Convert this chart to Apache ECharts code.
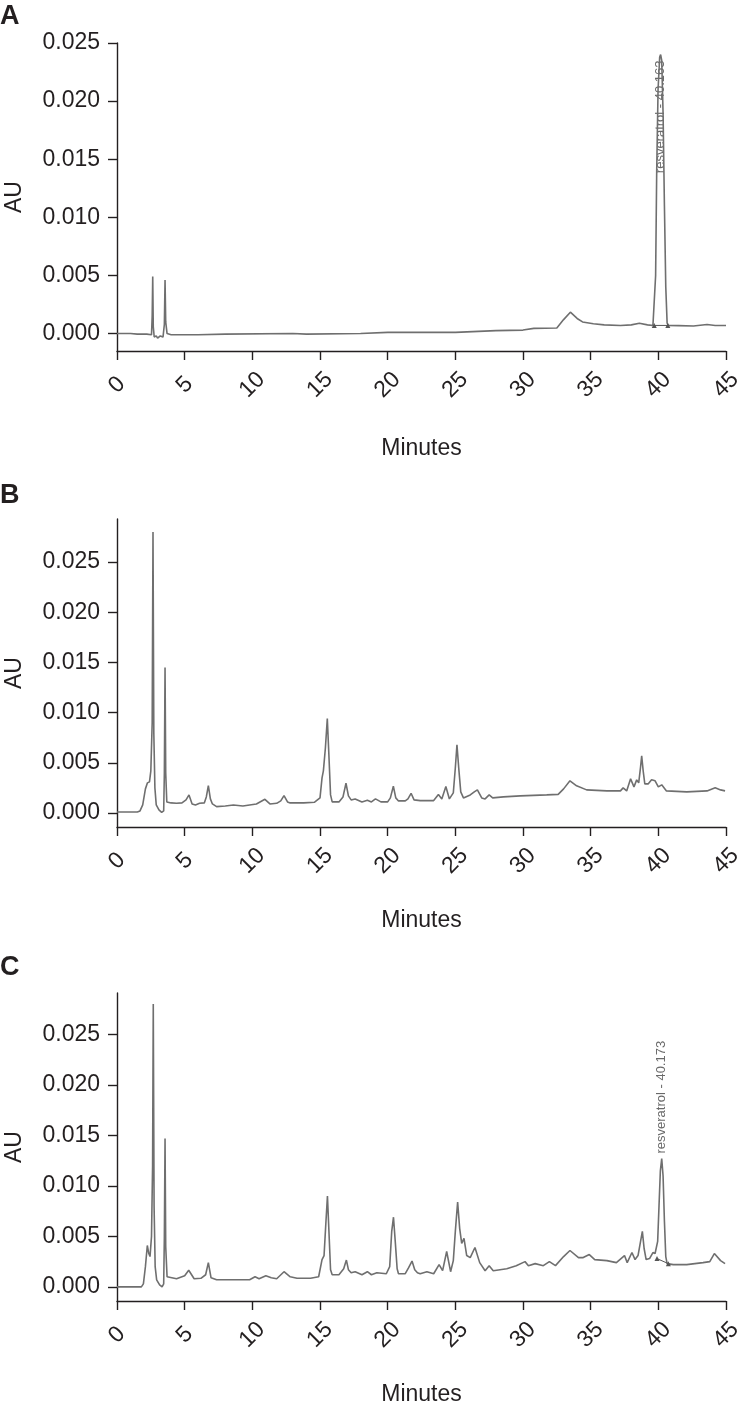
<!DOCTYPE html>
<html>
<head>
<meta charset="utf-8">
<title>HPLC chromatograms</title>
<script src="https://cdn.jsdelivr.net/npm/echarts@6/dist/echarts.min.js"></script>
<style>
  html, body { margin: 0; padding: 0; background: #fff; }
  #chart { width: 738px; height: 1405px; }
</style>
</head>
<body>
<div id="chart"></div>
<script>
// x ticks (minutes) and y ticks (AU), shared by the three panels
const minuteTicks = [0, 5, 10, 15, 20, 25, 30, 35, 40, 45]
const auTicks = [0, 0.005, 0.01, 0.015, 0.02, 0.025]
const panelLetters = ['A', 'B', 'C']

// A: resveratrol standard
const traceA = [
  [0, 0], [1.0, 0], [1.5, -0.00005], [2.2, -0.00005], [2.55, -0.0001], [2.6, 0.0015], [2.64, 0.0049],
  [2.68, 0.0006], [2.75, -0.0003], [2.9, -0.0002], [3.0, -0.0004], [3.2, -0.0002], [3.4, -0.0003],
  [3.5, 0.0008], [3.55, 0.0046], [3.6, 0.001], [3.7, 0], [4.0, -0.0001], [6, -0.0001], [8, -0.00005],
  [13, 0], [14, -0.00005], [18, 0], [20, 0.0001], [25, 0.0001], [28, 0.00025], [30, 0.0003],
  [30.8, 0.00045], [32.5, 0.00048], [33.0, 0.0012], [33.5, 0.00184], [34.0, 0.0013], [34.4, 0.001],
  [35.2, 0.00085], [36, 0.00075], [37.2, 0.0007], [38.0, 0.00075], [38.6, 0.00088], [39.2, 0.00075],
  [39.6, 0.0007], [39.72, 0.0008], [39.8, 0.005], [39.88, 0.014], [39.98, 0.021], [40.1, 0.0238],
  [40.17, 0.024], [40.25, 0.0235], [40.35, 0.019], [40.45, 0.011], [40.55, 0.004], [40.65, 0.0009],
  [40.75, 0.0007], [41.5, 0.00068], [42.6, 0.00065], [43.6, 0.00078], [44.2, 0.0007], [45, 0.0007]
]

// B: sample extract
const traceB = [
  [0, 0.0001], [1.5, 0.0001], [1.7, 0.0002], [1.9, 0.0008], [2.1, 0.0024], [2.25, 0.003], [2.4, 0.0031],
  [2.5, 0.0042], [2.6, 0.009], [2.66, 0.028], [2.72, 0.008], [2.8, 0.0025], [2.9, 0.0008], [3.1, 0.0003],
  [3.3, 0.00005], [3.45, 0.0002], [3.5, 0.004], [3.55, 0.0145], [3.6, 0.004], [3.68, 0.0011], [4.0, 0.001],
  [4.4, 0.00096], [4.8, 0.001], [5.1, 0.0013], [5.32, 0.0018], [5.55, 0.0009], [5.8, 0.0008], [6.1, 0.00096],
  [6.45, 0.001], [6.6, 0.0016], [6.75, 0.00273], [6.9, 0.0014], [7.05, 0.0009], [7.36, 0.00063], [8.0, 0.0007],
  [8.6, 0.0008], [9.3, 0.0007], [10.3, 0.0009], [10.93, 0.00136], [11.3, 0.0009], [11.8, 0.00096],
  [12.1, 0.0012], [12.34, 0.00173], [12.6, 0.0011], [12.8, 0.001], [13.8, 0.001], [14.6, 0.00107],
  [15.0, 0.0015], [15.15, 0.0035], [15.25, 0.0042], [15.4, 0.0065], [15.54, 0.0094], [15.65, 0.006],
  [15.78, 0.0018], [15.9, 0.0011], [16.4, 0.0011], [16.7, 0.0016], [16.92, 0.00296], [17.1, 0.0017],
  [17.3, 0.0013], [17.6, 0.0014], [18.1, 0.0011], [18.5, 0.00126], [18.8, 0.0011], [19.1, 0.0014],
  [19.5, 0.0011], [20.0, 0.0011], [20.2, 0.0015], [20.42, 0.00266], [20.6, 0.0015], [20.8, 0.0012],
  [21.3, 0.0012], [21.5, 0.0014], [21.73, 0.00196], [21.95, 0.0013], [22.4, 0.00123], [23.4, 0.00123],
  [23.75, 0.00183], [24.0, 0.0014], [24.3, 0.00263], [24.56, 0.0014], [24.85, 0.002], [25.0, 0.0045],
  [25.12, 0.0068], [25.25, 0.0045], [25.4, 0.0021], [25.6, 0.0015], [26.1, 0.0018], [26.4, 0.0021],
  [26.63, 0.0023], [26.95, 0.0015], [27.2, 0.0014], [27.5, 0.0018], [27.76, 0.0015], [28.55, 0.0016],
  [29.8, 0.0017], [31.75, 0.0018], [32.6, 0.00185], [33.0, 0.0024], [33.47, 0.0032], [33.96, 0.0027],
  [34.7, 0.0023], [36.2, 0.0022], [37.2, 0.0022], [37.4, 0.0025], [37.66, 0.0022], [37.95, 0.0034],
  [38.2, 0.0026], [38.4, 0.0033], [38.55, 0.003], [38.68, 0.0045], [38.77, 0.0057], [38.88, 0.0042],
  [39.0, 0.0029], [39.26, 0.0029], [39.5, 0.0033], [39.76, 0.0032], [40.0, 0.0026], [40.25, 0.0028],
  [40.6, 0.0022], [42.1, 0.0021], [43.6, 0.0022], [44.2, 0.0025], [44.6, 0.0023], [44.93, 0.0022]
]

// C: sample extract spiked with resveratrol
const traceC = [
  [0, 0], [1.8, 0], [1.95, 0.0003], [2.1, 0.002], [2.24, 0.0041], [2.35, 0.0033], [2.44, 0.003],
  [2.55, 0.005], [2.63, 0.012], [2.68, 0.028], [2.74, 0.008], [2.82, 0.002], [2.93, 0.0007], [3.15, 0.0002],
  [3.33, 0], [3.45, 0.0003], [3.5, 0.005], [3.55, 0.0147], [3.6, 0.004], [3.7, 0.001], [4.4, 0.0008],
  [5.0, 0.0011], [5.3, 0.00165], [5.7, 0.0008], [6.2, 0.00085], [6.55, 0.0012], [6.75, 0.0024],
  [6.95, 0.0009], [7.36, 0.0007], [8.8, 0.0007], [9.8, 0.0007], [10.2, 0.001], [10.5, 0.0008], [11.0, 0.0011],
  [11.4, 0.0009], [11.8, 0.0008], [12.34, 0.0015], [12.8, 0.001], [13.3, 0.00085], [14.3, 0.00085],
  [14.9, 0.001], [15.15, 0.0027], [15.3, 0.0031], [15.42, 0.006], [15.55, 0.009], [15.66, 0.0055],
  [15.78, 0.0017], [15.9, 0.0012], [16.4, 0.0012], [16.75, 0.0018], [16.95, 0.00265], [17.1, 0.0017],
  [17.3, 0.0014], [17.6, 0.0015], [18.1, 0.0012], [18.5, 0.0015], [18.8, 0.0012], [19.2, 0.0014],
  [19.9, 0.0013], [20.15, 0.002], [20.3, 0.0055], [20.43, 0.0069], [20.56, 0.0045], [20.7, 0.0018],
  [20.8, 0.0013], [21.3, 0.0013], [21.55, 0.0019], [21.8, 0.00255], [22.0, 0.0017], [22.2, 0.0014],
  [22.4, 0.0013], [22.9, 0.0015], [23.4, 0.0013], [23.8, 0.0022], [24.06, 0.0016], [24.36, 0.0035],
  [24.65, 0.0015], [24.85, 0.0026], [25.0, 0.0055], [25.17, 0.0084], [25.32, 0.0058], [25.47, 0.0043],
  [25.64, 0.0048], [25.84, 0.0031], [26.1, 0.0029], [26.45, 0.0039], [26.8, 0.0024], [27.2, 0.0016],
  [27.5, 0.0021], [27.8, 0.0016], [28.8, 0.0018], [29.5, 0.0021], [30.15, 0.0025], [30.4, 0.0021],
  [30.9, 0.0023], [31.5, 0.0021], [31.95, 0.0025], [32.4, 0.0021], [33.0, 0.003], [33.47, 0.0036],
  [34.1, 0.0029], [34.45, 0.0029], [34.9, 0.0032], [35.3, 0.0027], [36.2, 0.0026], [36.9, 0.0024],
  [37.5, 0.0031], [37.7, 0.0024], [38.05, 0.0034], [38.28, 0.0027], [38.5, 0.0031], [38.7, 0.0046],
  [38.82, 0.0055], [38.95, 0.0038], [39.1, 0.0027], [39.35, 0.0028], [39.6, 0.0034], [39.76, 0.0033],
  [39.95, 0.0045], [40.05, 0.008], [40.15, 0.0115], [40.25, 0.0127], [40.35, 0.011], [40.45, 0.0065],
  [40.55, 0.003], [40.65, 0.0023], [41.1, 0.0022], [42.1, 0.0022], [43.3, 0.0024], [43.8, 0.0025],
  [44.14, 0.0033], [44.6, 0.0026], [44.93, 0.0023]
]

// integration baseline under the resveratrol peak (start, end)
const baselineA = [[39.7, 0.0007], [40.7, 0.0007]]
const baselineC = [[39.9, 0.0028], [40.74, 0.0023]]

// peak annotations: [minutes, AU where text starts, text]
const peakLabelA = [40.17, 0.0138, 'resveratrol - 40.163']
const peakLabelC = [40.25, 0.0132, 'resveratrol - 40.173']

const yRanges = [[-0.0015, 0.025], [-0.0014, 0.0293], [-0.0014, 0.0291]]
const gridTops = [43, 519, 993]
const nameGaps = [86, 82, 82]

const font = "'Liberation Sans', Arial, sans-serif"
const ink = '#231f20'
const traceColor = '#6f6f6f'

const chart = echarts.init(document.getElementById('chart'))

const grids = gridTops.map((top) => ({
  left: 117,
  width: 609,
  top,
  height: 308,
  containLabel: false,
  outerBoundsMode: 'none'
}))

const xAxes = grids.map((g, i) => ({
  type: 'value',
  gridIndex: i,
  min: 0,
  max: 45,
  interval: 5,
  name: 'Minutes',
  nameLocation: 'middle',
  nameGap: nameGaps[i],
  nameTextStyle: { color: ink, fontSize: 23, fontFamily: font },
  axisLine: { onZero: false, lineStyle: { color: ink, width: 1.4 } },
  axisTick: { length: 9, lineStyle: { color: ink, width: 1.4 } },
  axisLabel: {
    rotate: 45,
    align: 'center',
    verticalAlign: 'middle',
    margin: 34,
    color: ink,
    fontSize: 23,
    fontFamily: font
  },
  splitLine: { show: false }
}))

const yAxes = yRanges.map((r, i) => ({
  type: 'value',
  gridIndex: i,
  min: r[0],
  max: r[1],
  name: 'AU',
  nameLocation: 'middle',
  nameRotate: 90,
  nameGap: 91,
  nameTextStyle: { color: ink, fontSize: 23, fontFamily: font },
  axisLine: { show: true, onZero: false, lineStyle: { color: ink, width: 1.4 } },
  axisTick: { show: true, length: 9, customValues: auTicks, lineStyle: { color: ink, width: 1.4 } },
  axisLabel: {
    customValues: auTicks,
    margin: 17,
    color: ink,
    fontSize: 23,
    fontFamily: font,
    formatter: (v) => v.toFixed(3)
  },
  splitLine: { show: false }
}))

function traceSeries(data, i) {
  return {
    type: 'line',
    xAxisIndex: i,
    yAxisIndex: i,
    data,
    showSymbol: false,
    smooth: false,
    lineStyle: { color: traceColor, width: 1.6 },
    silent: true
  }
}

function baselineSeries(data, i) {
  return {
    type: 'line',
    xAxisIndex: i,
    yAxisIndex: i,
    data,
    symbol: 'triangle',
    symbolSize: 5,
    showSymbol: true,
    itemStyle: { color: '#555' },
    lineStyle: { color: '#555', width: 1 },
    silent: true
  }
}

function labelSeries(item, i) {
  return {
    type: 'scatter',
    xAxisIndex: i,
    yAxisIndex: i,
    data: [[item[0], item[1]]],
    symbolSize: 0,
    label: {
      show: true,
      position: 'inside',
      rotate: 90,
      align: 'left',
      verticalAlign: 'middle',
      formatter: () => item[2],
      color: '#444',
      fontSize: 13,
      fontFamily: font
    },
    silent: true
  }
}

const letterTops = [3, 482, 954]

chart.setOption({
  backgroundColor: '#fff',
  animation: false,
  grid: grids,
  xAxis: xAxes,
  yAxis: yAxes,
  graphic: panelLetters.map((t, i) => ({
    type: 'text',
    left: 0,
    top: letterTops[i],
    style: { text: t, fill: ink, font: "bold 27px 'Liberation Sans Narrow', 'Liberation Sans', Arial, sans-serif" }
  })),
  series: [
    traceSeries(traceA, 0),
    traceSeries(traceB, 1),
    traceSeries(traceC, 2),
    baselineSeries(baselineA, 0),
    baselineSeries(baselineC, 2),
    labelSeries(peakLabelA, 0),
    labelSeries(peakLabelC, 2)
  ]
})
</script>
</body>
</html>
